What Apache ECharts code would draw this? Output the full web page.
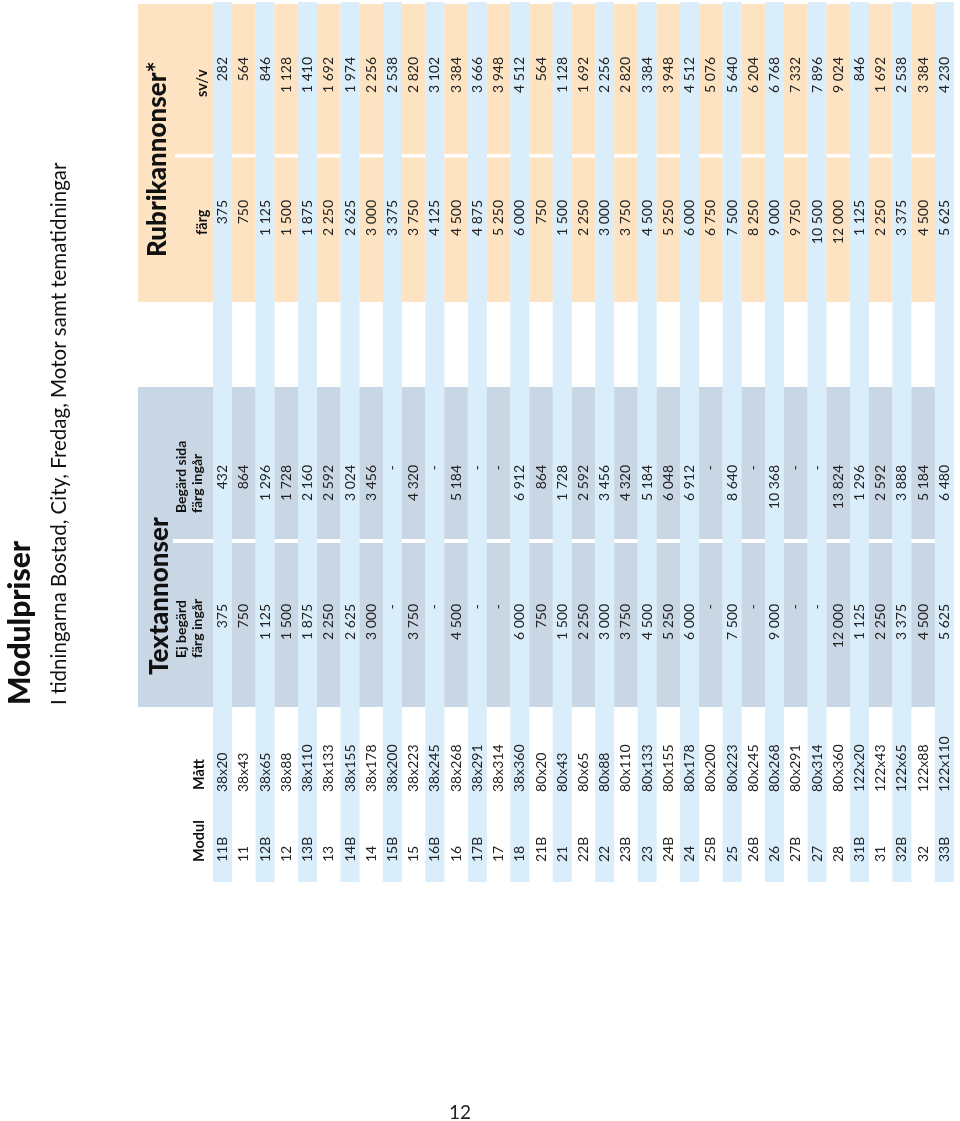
<!DOCTYPE html>
<html>
<head>
<meta charset="utf-8">
<script src="https://cdn.jsdelivr.net/npm/echarts@6/dist/echarts.min.js"></script>
<style>
html,body{margin:0;padding:0;background:#fff;}
#c{width:960px;height:1121px;}
</style>
</head>
<body>
<div id="c"></div>
<script>
// ---------- DATA ----------
const moduler = ['11B','11','12B','12','13B','13','14B','14','15B','15','16B','16','17B','17','18',
  '21B','21','22B','22','23B','23','24B','24','25B','25','26B','26','27B','27','28',
  '31B','31','32B','32','33B'];
const matt = ['38x20','38x43','38x65','38x88','38x110','38x133','38x155','38x178','38x200','38x223','38x245','38x268','38x291','38x314','38x360',
  '80x20','80x43','80x65','80x88','80x110','80x133','80x155','80x178','80x200','80x223','80x245','80x268','80x291','80x314','80x360',
  '122x20','122x43','122x65','122x88','122x110'];
// Textannonser
const ejBegard = [375,750,1125,1500,1875,2250,2625,3000,null,3750,null,4500,null,null,6000,
  750,1500,2250,3000,3750,4500,5250,6000,null,7500,null,9000,null,null,12000,
  1125,2250,3375,4500,5625];
const begardSida = [432,864,1296,1728,2160,2592,3024,3456,null,4320,null,5184,null,null,6912,
  864,1728,2592,3456,4320,5184,6048,6912,null,8640,null,10368,null,null,13824,
  1296,2592,3888,5184,6480];
// Rubrikannonser
const rubrikFarg = [375,750,1125,1500,1875,2250,2625,3000,3375,3750,4125,4500,4875,5250,6000,
  750,1500,2250,3000,3750,4500,5250,6000,6750,7500,8250,9000,9750,10500,12000,
  1125,2250,3375,4500,5625];
const rubrikSvv = [282,564,846,1128,1410,1692,1974,2256,2538,2820,3102,3384,3666,3948,4512,
  564,1128,1692,2256,2820,3384,3948,4512,5076,5640,6204,6768,7332,7896,9024,
  846,1692,2538,3384,4230];

// ---------- LAYOUT / STYLE ----------
const FONT = 'Lato, "DejaVu Sans", sans-serif';
const BLUE = '#d9edfb', ORANGE = '#fde3c2', GREY = '#c9d6e4', TXT = '#222222';
const L = {
  stripeTop: 2, stripeBottom: 882, blueW: 19, altW: 23.6,
  svv: [4, 154], farg: [157.5, 302], beg: [387, 539], ej: [543, 707],
  anchor: { modul: 862, matt: 792, ej: 604, beg: 465, farg: 200, svv: 57 }
};
const ROT = Math.PI / 2;

function fmt(v) {
  if (v === null || v === undefined || isNaN(v)) return '-';
  return String(v).replace(/\B(?=(\d{3})+(?!\d))/g, ' ');
}

function renderBg(params, api) {
  const i = api.value(0);
  const c0 = api.coord([i, 0]);
  const cx = c0[0];
  const yy = v => api.coord([i, v])[1];
  if (i % 2 === 0) {
    const t = yy(L.stripeTop), b = yy(L.stripeBottom);
    return { type: 'rect', shape: { x: cx - L.blueW / 2, y: t, width: L.blueW, height: b - t },
      style: { fill: BLUE } };
  }
  const blocks = [[L.svv, ORANGE], [L.farg, ORANGE], [L.beg, GREY], [L.ej, GREY]];
  return {
    type: 'group',
    children: blocks.map(([r, col]) => {
      const t = yy(r[0]), b = yy(r[1]);
      return { type: 'rect', shape: { x: cx - L.altW / 2, y: t, width: L.altW, height: b - t },
        style: { fill: col } };
    })
  };
}

function textColumn(name, values, anchorY, align) {
  return {
    type: 'custom', name: name,
    data: values.map((v, i) => [i, v === null ? NaN : v, anchorY]),
    encode: { x: 0, y: 2 },
    z: 5,
    renderItem: function (params, api) {
      const i = api.value(0);
      const raw = values[i];
      const p = api.coord([i, anchorY]);
      const txt = typeof raw === 'string' ? raw : fmt(raw);
      return {
        type: 'text', x: p[0], y: p[1], rotation: ROT,
        style: { text: txt, fill: TXT, fontSize: 14, fontFamily: FONT,
          textAlign: align, textVerticalAlign: 'middle' }
      };
    }
  };
}

function hText(text, x, y, size, weight, align) {
  return { type: 'text', x: x, y: y, rotation: ROT, z: 10,
    style: { text: text, fill: '#111', fontSize: size, fontWeight: weight || 'bold',
      fontFamily: FONT, textAlign: align || 'left', textVerticalAlign: 'middle' } };
}

const chart = echarts.init(document.getElementById('c'));
chart.setOption({
  animation: false,
  backgroundColor: '#ffffff',
  grid: { left: 212, right: 5, top: 0, bottom: 0, containLabel: false },
  xAxis: { type: 'category', data: moduler, show: false, boundaryGap: true },
  yAxis: { type: 'value', min: 0, max: 1121, inverse: true, show: false },
  graphic: { elements: [
    // header backgrounds
    { type: 'rect', shape: { x: 138, y: 4, width: 75.5, height: 298 }, style: { fill: ORANGE }, z: 1 },
    { type: 'rect', shape: { x: 175, y: 154, width: 38.5, height: 3.5 }, style: { fill: '#fff' }, z: 2 },
    { type: 'rect', shape: { x: 138, y: 387, width: 75.5, height: 320 }, style: { fill: GREY }, z: 1 },
    { type: 'rect', shape: { x: 173, y: 539, width: 40.5, height: 4 }, style: { fill: '#fff' }, z: 2 },
    // titles
    hText('Modulpriser', 20, 705, 30, 900),
    hText('I tidningarna Bostad, City, Fredag, Motor samt tematidningar', 59, 705, 20.5, 'normal'),
    // section headers
    hText('Rubrikannonser*', 158, 257, 26, 900),
    hText('färg', 202, 235, 14.5, 'bold'),
    hText('sv/v', 202, 97, 14.5, 'bold'),
    hText('Textannonser', 160, 675, 26, 900),
    hText('Ej begärd', 181, 658, 14, 'bold'),
    hText('färg ingår', 197.5, 658, 14, 'bold'),
    hText('Begärd sida', 181, 513, 14, 'bold'),
    hText('färg ingår', 197.5, 513, 14, 'bold'),
    hText('Modul', 199, 862, 14.5, 'bold'),
    hText('Mått', 199, 790, 14.5, 'bold'),
    { type: 'text', x: 460, y: 1113, z: 10,
      style: { text: '12', fill: '#222', fontSize: 19, fontFamily: FONT,
        textAlign: 'center', textVerticalAlign: 'middle' } }
  ] },
  series: [
    { type: 'custom', name: 'Bakgrund', data: moduler.map((m, i) => [i]), encode: { x: 0 },
      renderItem: renderBg, z: 1, silent: true },
    textColumn('Modul', moduler, L.anchor.modul, 'left'),
    textColumn('Mått', matt, L.anchor.matt, 'left'),
    textColumn('Ej begärd färg ingår', ejBegard, L.anchor.ej, 'right'),
    textColumn('Begärd sida färg ingår', begardSida, L.anchor.beg, 'right'),
    textColumn('Rubrikannonser färg', rubrikFarg, L.anchor.farg, 'right'),
    textColumn('Rubrikannonser sv/v', rubrikSvv, L.anchor.svv, 'right')
  ]
});
</script>
</body>
</html>
